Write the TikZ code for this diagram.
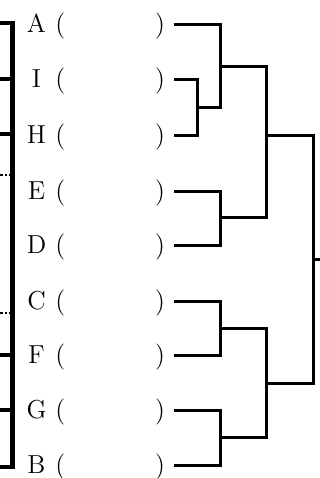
\documentclass[tikz,border=0pt]{standalone}
\usepackage{tikz}
\usetikzlibrary{positioning}
\begin{document}
\begin{tikzpicture}[x=0.5pt,y=-0.5pt,every node/.style={font=\fontsize{13}{15}\selectfont},tag/.style={inner sep=0pt,text height=8.9pt,text depth=0pt,minimum width=10pt},slot/.style={anchor=west,inner ysep=0pt,inner xsep=4.5pt,text height=8.9pt,text depth=0pt},link/.style={line width=1.5pt},rail/.style={line width=2.25pt}]
        \useasboundingbox (0,0) rectangle (320,478);
        % names and answer slots
        \foreach \n/\y in {A/24,I/79,H/135,E/191,D/245,C/301,F/355,G/410,B/465}{
          \node[tag] (l\n) at (36.5,\y) {\n};
          \node[slot] (p\n) at (46,\y) {(\hspace{44.9pt})};
        }
        % left rail (cut off)
        \draw[rail] (0,23) -- (12.5,23) -- (12.5,467) -- (0,467);
        \foreach \y in {79,134,355,410} \draw[rail] (0,\y) -- (12.5,\y);
        \foreach \y in {175,313} \draw[line width=1.25pt,densely dotted] (0,\y) -- (12.5,\y);
        % bracket
        \coordinate (jIH) at (197,107);
        \coordinate (jAIH) at (220,66);
        \coordinate (jED) at (220,217);
        \coordinate (jCF) at (220,328);
        \coordinate (jGB) at (220,437);
        \coordinate (jtop) at (266,135);
        \coordinate (jbot) at (266,383);
        \coordinate (jall) at (313,259);
        \coordinate (out) at (320,259);
        \draw[link] (pI.east) -| (jIH) |- (pH.east);
        \draw[link] (pA.east) -| (jAIH) |- (jIH);
        \draw[link] (pE.east) -| (jED) |- (pD.east);
        \draw[link] (pC.east) -| (jCF) |- (pF.east);
        \draw[link] (pG.east) -| (jGB) |- (pB.east);
        \draw[link] (jAIH) -| (jtop) |- (jED);
        \draw[link] (jCF) -| (jbot) |- (jGB);
        \draw[link] (jtop) -| (jall) |- (jbot);
        \draw[link] (jall) -- (out);
      \end{tikzpicture}
\end{document}
